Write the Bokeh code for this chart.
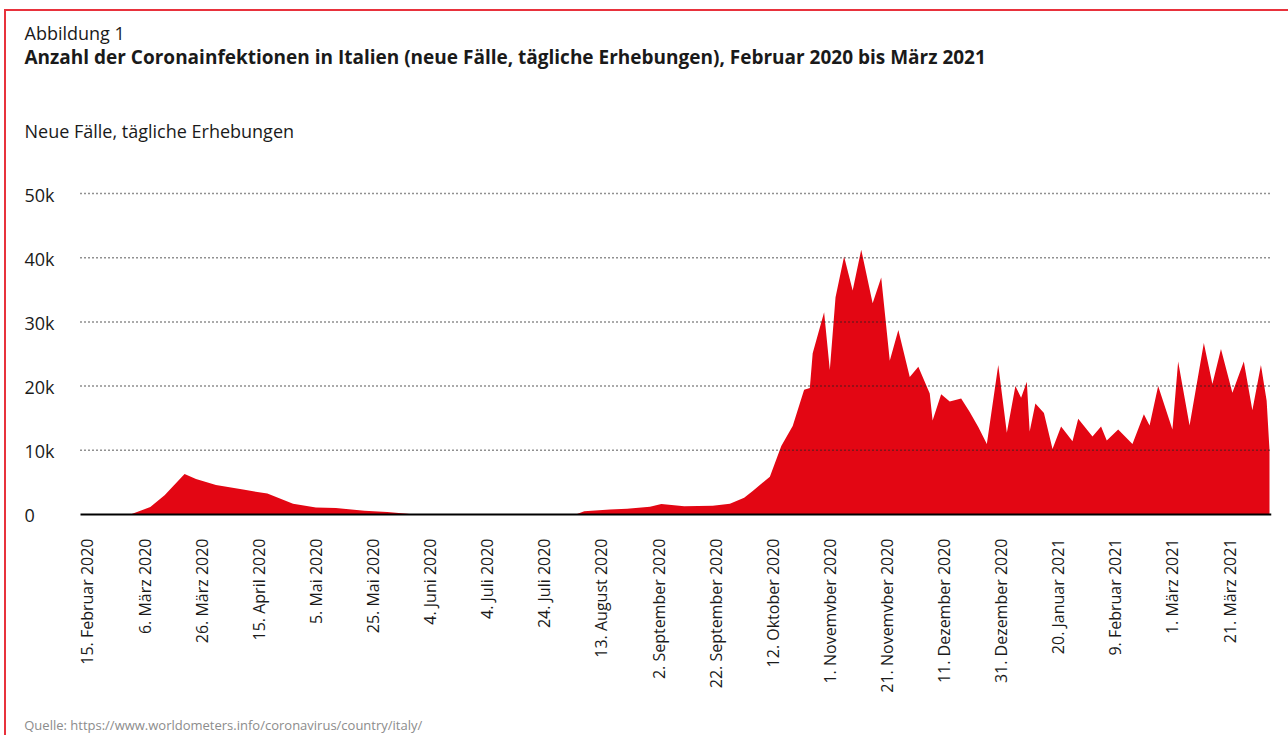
import math
import pandas as pd
from bokeh.plotting import figure
from bokeh.models import FixedTicker, Range1d
from bokeh.core.properties import value
from bokeh.layouts import column
from bokeh.embed import file_html
from bokeh.resources import INLINE

# ---------------- data ----------------
dates = [
    "2020-02-13", "2020-03-01", "2020-03-08", "2020-03-13", "2020-03-20", "2020-03-24",
    "2020-03-31", "2020-04-10", "2020-04-18", "2020-04-27", "2020-05-05", "2020-05-12",
    "2020-05-22", "2020-05-30", "2020-06-06", "2020-06-08", "2020-08-04", "2020-08-07",
    "2020-08-16", "2020-08-22", "2020-08-30", "2020-09-03", "2020-09-11", "2020-09-21",
    "2020-09-27", "2020-10-02", "2020-10-05", "2020-10-11", "2020-10-15", "2020-10-19",
    "2020-10-23", "2020-10-25", "2020-10-26", "2020-10-30", "2020-11-01", "2020-11-03",
    "2020-11-06", "2020-11-09", "2020-11-12", "2020-11-16", "2020-11-19", "2020-11-22",
    "2020-11-25", "2020-11-29", "2020-12-02", "2020-12-06", "2020-12-07", "2020-12-10",
    "2020-12-13", "2020-12-17", "2020-12-20", "2020-12-23", "2020-12-26", "2020-12-30",
    "2021-01-02", "2021-01-05", "2021-01-07", "2021-01-09", "2021-01-10", "2021-01-12",
    "2021-01-15", "2021-01-18", "2021-01-21", "2021-01-25", "2021-01-27", "2021-02-01",
    "2021-02-04", "2021-02-06", "2021-02-10", "2021-02-15", "2021-02-19", "2021-02-21",
    "2021-02-24", "2021-03-01", "2021-03-03", "2021-03-07", "2021-03-12", "2021-03-15",
    "2021-03-18", "2021-03-22", "2021-03-26", "2021-03-29", "2021-04-01", "2021-04-03",
    "2021-04-04",
]
new_cases = [
    0, 0, 1160, 3000, 6320, 5530,
    4580, 3840, 3260, 1680, 1100, 1000,
    580, 370, 100, 0, 0, 520,
    780, 890, 1200, 1620, 1300, 1350,
    1670, 2600, 3650, 5890, 10680, 13800,
    19430, 19700, 25100, 31500, 22500, 33850,
    40200, 34900, 41250, 32900, 36900, 23960,
    28750, 21400, 23000, 18850, 14660, 18740,
    17590, 18060, 15970, 13610, 10990, 23300,
    12720, 20000, 18170, 20680, 12930, 17280,
    15810, 10210, 13720, 11410, 14920, 12150,
    13720, 11520, 13250, 10990, 15600, 13870,
    20000, 13250, 23820, 13870, 26700, 20310,
    25760, 18950, 23820, 16230, 23300, 17700,
    10050,
]
tick_dates = [
    "2020-02-15", "2020-03-06", "2020-03-26", "2020-04-15", "2020-05-05", "2020-05-25",
    "2020-06-14", "2020-07-04", "2020-07-24", "2020-08-13", "2020-09-02", "2020-09-22",
    "2020-10-12", "2020-11-01", "2020-11-21", "2020-12-11", "2020-12-31", "2021-01-20",
    "2021-02-09", "2021-03-01", "2021-03-21",
]
tick_labels = [
    "15. Februar 2020", "6. März 2020", "26. März 2020", "15. April 2020", "5. Mai 2020",
    "25. Mai 2020", "4. Juni 2020", "4. Juli 2020", "24. Juli 2020", "13. August 2020",
    "2. September 2020", "22. September 2020", "12. Oktober 2020", "1. Novemvber 2020",
    "21. Novemvber 2020", "11. Dezember 2020", "31. Dezember 2020", "20. Januar 2021",
    "9. Februar 2021", "1. März 2021", "21. März 2021",
]
y_ticks = [0, 10000, 20000, 30000, 40000, 50000]
y_tick_labels = ["0", "10k", "20k", "30k", "40k", "50k"]

fig_label = "Abbildung 1"
title = ("Anzahl der Coronainfektionen in Italien (neue Fälle, tägliche Erhebungen), "
         "Februar 2020 bis März 2021")
y_title = "Neue Fälle, tägliche Erhebungen"
source_note = "Quelle: https://www.worldometers.info/coronavirus/country/italy/"

# ---------------- derived ----------------
origin = pd.Timestamp("2020-02-15")
day = [(pd.Timestamp(d) - origin).days for d in dates]
tick_days = [(pd.Timestamp(d) - origin).days for d in tick_dates]

FONT = "Open Sans"
RED = "#E30613"
TEXT = "#1a1a1a"

# ---------------- layout constants (page pixels) ----------------
PAGE_L, PAGE_T = 6, 11           # canvas origin on the page (after red border)
PLOT_L, PLOT_R = 80, 1271        # plotted area left / right
Y0_PX, Y50_PX = 514, 193         # pixel rows of 0 and 50k
X_START_DAY, X_END_DAY = -2.45, 414.7
FRAME_B = 528                    # frame bottom (below the zero line, room for "0")
CHART_BOTTOM = 705               # bottom of chart canvas, footer below

px_per_day = (PLOT_R - PLOT_L) / (X_END_DAY - X_START_DAY)
val_per_px = 50000 / (Y0_PX - Y50_PX)

x_lo = X_START_DAY - (PLOT_L - PAGE_L) / px_per_day
y_lo = -(FRAME_B - Y0_PX) * val_per_px
y_hi = (Y0_PX - PAGE_T) * val_per_px

W = 1288 - PAGE_L
H_CHART = CHART_BOTTOM - PAGE_T

p = figure(
    width=W, height=H_CHART, output_backend="svg", toolbar_location=None,
    x_range=Range1d(x_lo, X_END_DAY), y_range=Range1d(y_lo, y_hi),
    y_axis_location=None,
    min_border_left=0, min_border_right=1288 - PLOT_R, min_border_top=0,
    min_border_bottom=CHART_BOTTOM - FRAME_B,
)
p.extra_x_ranges = {"page": Range1d(PAGE_L, PLOT_R)}
p.extra_y_ranges = {"page": Range1d(FRAME_B, PAGE_T)}
p.outline_line_color = None
p.background_fill_color = "white"
p.border_fill_color = "white"
p.xgrid.visible = False
p.ygrid.visible = False

# area
p.varea(x=day, y1=0, y2=new_cases, fill_color=RED)

# dotted gridlines (drawn over the area, only across the plotted width)
grid_vals = y_ticks[1:]
p.segment(x0=[X_START_DAY] * len(grid_vals), x1=[X_END_DAY] * len(grid_vals),
          y0=grid_vals, y1=grid_vals, line_color="#222222", line_width=1.5,
          line_dash="1 3")
# zero baseline
p.segment(x0=[X_START_DAY], x1=[X_END_DAY], y0=[0], y1=[0],
          line_color="black", line_width=2)

# x axis
xa = p.xaxis[0]
xa.ticker = FixedTicker(ticks=tick_days)
xa.major_label_overrides = {d: l for d, l in zip(tick_days, tick_labels)}
xa.major_label_orientation = math.pi / 2
xa.major_tick_line_color = None
xa.minor_tick_line_color = None
xa.axis_line_color = None
xa.major_label_standoff = 4
xa.major_label_text_font = FONT
xa.major_label_text_font_size = "16px"
xa.major_label_text_color = TEXT

# y tick labels (left aligned at page x=24)
p.text(x=[24] * len(y_ticks), y=y_ticks, text=y_tick_labels, x_range_name="page",
       text_align="left", text_baseline="middle", y_offset=1,
       text_font=value(FONT), text_font_size="18px", text_color=TEXT)

# header texts (y = vertical centre on the page)
p.text(x=[24], y=[32], text=[fig_label], x_range_name="page", y_range_name="page",
       text_align="left", text_baseline="middle",
       text_font=value(FONT), text_font_size="18px", text_color=TEXT)
p.text(x=[24], y=[56], text=[title], x_range_name="page", y_range_name="page",
       text_align="left", text_baseline="middle",
       text_font=value(FONT), text_font_size="19px", text_font_style="bold",
       text_color=TEXT)
p.text(x=[24], y=[130], text=[y_title], x_range_name="page", y_range_name="page",
       text_align="left", text_baseline="middle",
       text_font=value(FONT), text_font_size="18px", text_color=TEXT)

# footer figure
f = figure(
    width=W, height=735 - CHART_BOTTOM, output_backend="svg", toolbar_location=None,
    x_range=Range1d(PAGE_L, 1288), y_range=Range1d(735, CHART_BOTTOM),
    x_axis_location=None, y_axis_location=None,
    min_border_left=0, min_border_right=0, min_border_top=0, min_border_bottom=0,
)
f.outline_line_color = None
f.xgrid.visible = False
f.ygrid.visible = False
f.text(x=[24], y=[724], text=[source_note], text_align="left",
       text_baseline="middle", text_font=value(FONT), text_font_size="13px",
       text_color="#8c8c8c")

layout = column(p, f, spacing=0,
                styles={"margin-left": "4px", "margin-top": "9px",
                        "border-top": "2px solid #E8323C",
                        "border-left": "2px solid #E8323C"})

open("out.html", "w").write(file_html(layout, INLINE))
